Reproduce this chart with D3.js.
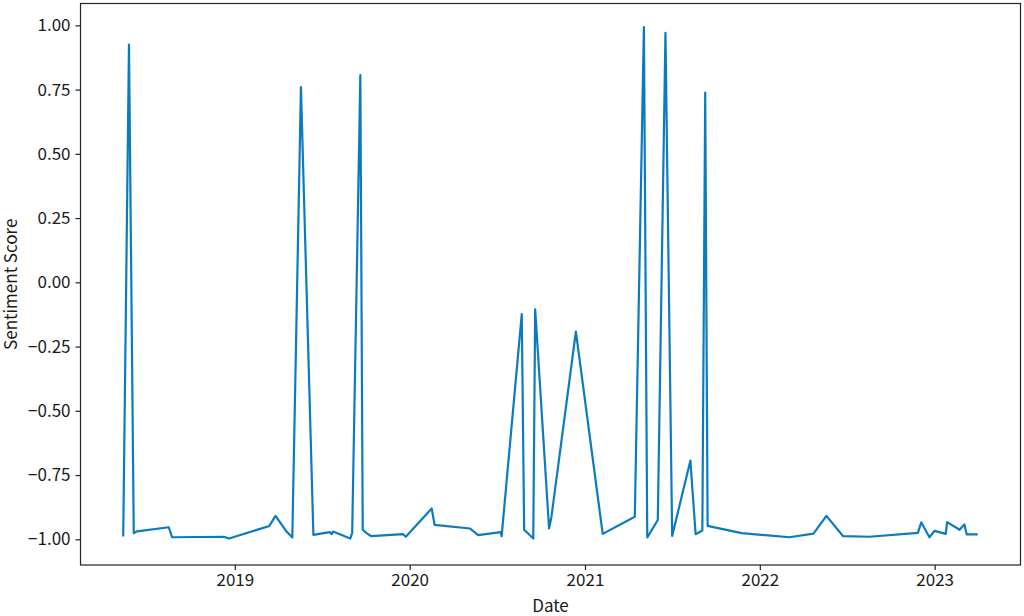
<!DOCTYPE html>
<html>
<head>
<meta charset="utf-8">
<script src="https://cdn.jsdelivr.net/npm/d3@7"></script>
<style>
  html, body { margin: 0; padding: 0; background: #fff; }
  svg { display: block; }
  text { font-family: "Noto Sans CJK JP", "Noto Sans", sans-serif; fill: #1a1a1a; }
</style>
</head>
<body>
<svg id="chart" width="1024" height="616"></svg>
<script>
const dates = [
  "2018-05-13","2018-05-25","2018-06-04","2018-06-11","2018-08-16","2018-08-23","2018-12-09","2018-12-20",
  "2019-03-14","2019-03-27","2019-04-19","2019-05-01","2019-05-19","2019-06-14","2019-07-18","2019-07-22",
  "2019-07-25","2019-08-30","2019-09-03","2019-09-20","2019-09-25","2019-10-03","2019-10-13","2019-12-18",
  "2019-12-24","2020-01-02","2020-02-16","2020-02-22","2020-05-06","2020-05-23","2020-07-09","2020-07-11",
  "2020-08-22","2020-08-27","2020-09-15","2020-09-19","2020-10-18","2020-10-23","2020-12-13","2021-02-07",
  "2021-04-15","2021-05-04","2021-05-11","2021-06-02","2021-06-18","2021-07-02","2021-08-09","2021-08-20",
  "2021-09-03","2021-09-09","2021-09-14","2021-11-24","2022-03-04","2022-04-23","2022-05-20","2022-06-24",
  "2022-08-18","2022-11-27","2022-12-04","2022-12-21","2023-01-01","2023-01-24","2023-01-27","2023-02-22",
  "2023-03-04","2023-03-09","2023-04-01"
];
const scores = [
  -0.989, 0.925, -0.976, -0.969, -0.953, -0.992, -0.990, -0.997,
  -0.948, -0.909, -0.970, -0.993, 0.760, -0.983, -0.972, -0.980,
  -0.970, -0.997, -0.976, 0.806, -0.963, -0.976, -0.988, -0.980,
  -0.990, -0.972, -0.880, -0.944, -0.958, -0.984, -0.972, -0.988,
  -0.124, -0.963, -0.997, -0.105, -0.958, -0.912, -0.192, -0.979,
  -0.912, 0.993, -0.993, -0.925, 0.971, -0.987, -0.694, -0.980,
  -0.966, 0.738, -0.948, -0.976, -0.992, -0.978, -0.909, -0.988,
  -0.990, -0.975, -0.934, -0.992, -0.967, -0.979, -0.933, -0.963,
  -0.942, -0.981, -0.981
];
const yTicks = [-1.00, -0.75, -0.50, -0.25, 0.00, 0.25, 0.50, 0.75, 1.00];
const xTickYears = [2019, 2020, 2021, 2022, 2023];
const yLimits = [-1.1, 1.085];
const xLabel = "Date";
const yLabel = "Sentiment Score";

const parse = d3.timeParse("%Y-%m-%d");
const data = dates.map((d, i) => ({ date: parse(d), value: scores[i] }));

const svg = d3.select("#chart");
const plotLeft = 80.5, plotRight = 1020.5, plotTop = 3.5, plotBottom = 565;

const ext = d3.extent(data, d => d.date);
const pad = (ext[1] - ext[0]) * 0.05;
const x = d3.scaleTime()
  .domain([new Date(+ext[0] - pad), new Date(+ext[1] + pad)])
  .range([plotLeft, plotRight]);
const y = d3.scaleLinear().domain(yLimits).range([plotBottom, plotTop]);

const fmtY = v => d3.format(".2f")(v).replace("-", "\u2212");

const xAxis = d3.axisBottom(x)
  .tickValues(xTickYears.map(yr => new Date(yr, 0, 1)))
  .tickFormat(d3.timeFormat("%Y"))
  .tickSizeInner(5).tickSizeOuter(0).tickPadding(4);
const yAxis = d3.axisLeft(y)
  .tickValues(yTicks)
  .tickFormat(fmtY)
  .tickSizeInner(5).tickSizeOuter(0).tickPadding(5);

svg.append("path")
  .datum(data)
  .attr("fill", "none")
  .attr("stroke", "#0a7bbf")
  .attr("stroke-width", 2.2)
  .attr("stroke-linejoin", "round")
  .attr("d", d3.line().x(d => x(d.date)).y(d => y(d.value)));

const gx = svg.append("g").attr("transform", `translate(0,${plotBottom})`).call(xAxis);
const gy = svg.append("g").attr("transform", `translate(${plotLeft},0)`).call(yAxis);
[gx, gy].forEach(g => {
  g.select(".domain").remove();
  g.selectAll("line").attr("stroke", "#222").attr("stroke-width", 1.2);
  g.selectAll("text").attr("font-size", 17).attr("fill", "#1a1a1a")
    .style("font-family", '"Noto Sans CJK JP", "Noto Sans", sans-serif');
});

svg.append("rect")
  .attr("x", plotLeft).attr("y", plotTop)
  .attr("width", plotRight - plotLeft).attr("height", plotBottom - plotTop)
  .attr("fill", "none").attr("stroke", "#222").attr("stroke-width", 1.2);

svg.append("text")
  .attr("x", (plotLeft + plotRight) / 2).attr("y", 612)
  .attr("text-anchor", "middle").attr("font-size", 17)
  .text(xLabel);
svg.append("text")
  .attr("transform", `translate(17,${(plotTop + plotBottom) / 2}) rotate(-90)`)
  .attr("text-anchor", "middle").attr("font-size", 17)
  .text(yLabel);
</script>
</body>
</html>
